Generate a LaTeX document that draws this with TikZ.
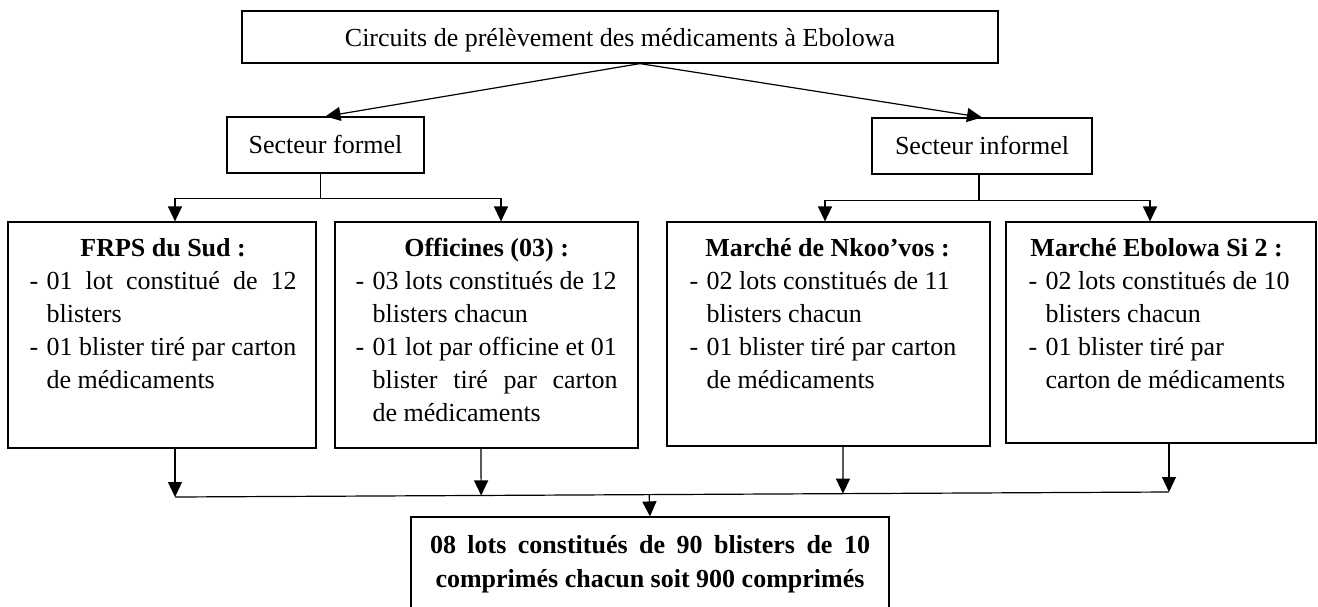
\documentclass[tikz,border=0pt]{standalone}
\usepackage{fontspec}
\setmainfont{Liberation Serif}
\usetikzlibrary{arrows.meta,calc}

\newcommand{\dashitem}{\makebox[17pt][l]{-}}
\newcommand{\spreadline}[2]{\makebox[#1][s]{#2}}
\newcommand{\indentline}{\hspace*{17pt}}
\newcommand{\firstline}{\rule{0pt}{24pt}}

\tikzset{
    panel/.style={draw, line width=1.2pt, inner sep=0pt, font=\fontsize{26}{33}\selectfont},
    sector/.style={panel, minimum height=56pt, text height=20pt, text depth=4pt},
    paneltext/.style={anchor=north west, inner sep=0pt, align=left, font=\fontsize{26}{33}\selectfont},
    link/.style={line width=1.2pt},
    flow/.style={link, -{Triangle[length=15pt,width=14pt]}}
}

\begin{document}
\begin{tikzpicture}[x=1pt,y=-1pt]
            \useasboundingbox (0,0) rectangle (1318,606);
            \clip (0,0) rectangle (1318,606);

            \node[panel, minimum width=756pt, minimum height=52pt, text height=22pt, text depth=4pt] (titre) at (620,37) {Circuits de prélèvement des médicaments à Ebolowa};
            \node[sector, minimum width=197pt] (formel) at (325.5,145) {Secteur formel};
            \node[sector, minimum width=220pt] (informel) at (982,146) {Secteur informel};

            \node[panel, minimum width=308pt, minimum height=226pt] (frps) at (162,335) {};
            \node[panel, minimum width=303pt, minimum height=226pt] (off) at (486.5,335) {};
            \node[panel, minimum width=323pt, minimum height=224pt] (nkoo) at (828.5,334) {};
            \node[panel, minimum width=310pt, minimum height=221pt] (si2) at (1161,332.5) {};

            \node[paneltext] (frps-txt) at ([shift={(22,11)}]frps.north west) {\firstline\makebox[267pt]{\textbf{FRPS du Sud :}}\\
                \spreadline{267pt}{\dashitem 01 lot constitué de 12}\\
                \indentline blisters\\
                \dashitem 01 blister tiré par carton\\
                \indentline de médicaments};
            \node[paneltext] (off-txt) at ([shift={(21,11)}]off.north west) {\firstline\makebox[262pt]{\textbf{Officines (03) :}}\\
                \dashitem 03 lots constitués de 12\\
                \indentline blisters chacun\\
                \dashitem 01 lot par officine et 01\\
                \indentline\spreadline{245pt}{blister tiré par carton}\\
                \indentline de médicaments};
            \node[paneltext] (nkoo-txt) at ([shift={(23,11)}]nkoo.north west) {\firstline\makebox[276pt]{\textbf{Marché de Nkoo’vos :}}\\
                \dashitem 02 lots constitués de 11\\
                \indentline blisters chacun\\
                \dashitem 01 blister tiré par carton\\
                \indentline de médicaments};
            \node[paneltext] (si2-txt) at ([shift={(23,11)}]si2.north west) {\firstline\makebox[256pt]{\textbf{Marché Ebolowa Si 2 :}}\\
                \dashitem 02 lots constitués de 10\\
                \indentline blisters chacun\\
                \dashitem 01 blister tiré par\\
                \indentline carton de médicaments};

            \node[panel, minimum width=478pt, minimum height=94pt, align=center, font=\fontsize{26}{34}\selectfont\bfseries] (final) at (650,564) {\spreadline{440pt}{08 lots constitués de 90 blisters de 10}\\comprimés chacun soit 900 comprimés};

            \coordinate (apex) at ([xshift=20pt]titre.south);
            \draw[flow] (apex) -- (formel.north);
            \draw[flow] (apex) -- (informel.north);

            \coordinate (fourche-f) at ($(formel.south)+(-5,25)$);
            \draw[link] ([xshift=-5pt]formel.south) -- (fourche-f);
            \draw[flow] (fourche-f) -| ([xshift=13pt]frps.north);
            \draw[flow] (fourche-f) -| ([xshift=14.5pt]off.north);

            \coordinate (fourche-i) at ($(informel.south)+(-3,26)$);
            \draw[link] ([xshift=-3pt]informel.south) -- (fourche-i);
            \draw[flow] (fourche-i) -| ([xshift=-3.5pt]nkoo.north);
            \draw[flow] (fourche-i) -| ([xshift=-11pt]si2.north);

            \coordinate (jonction-g) at (175,497);
            \coordinate (jonction-d) at (1169,492);
            \coordinate (sortie) at ($(jonction-g)!0.477!(jonction-d)$);
            \draw[link] (jonction-g) -- (jonction-d);
            \draw[flow] ([xshift=13pt]frps.south) -- (jonction-g);
            \draw[flow] ([xshift=-5.5pt]off.south) -- ($(jonction-g)!0.308!(jonction-d)$);
            \draw[flow] ([xshift=14.5pt]nkoo.south) -- ($(jonction-g)!0.672!(jonction-d)$);
            \draw[flow] ([xshift=8pt]si2.south) -- (jonction-d);
            \draw[flow] (sortie) -- (final.north);
        \end{tikzpicture}
\end{document}
